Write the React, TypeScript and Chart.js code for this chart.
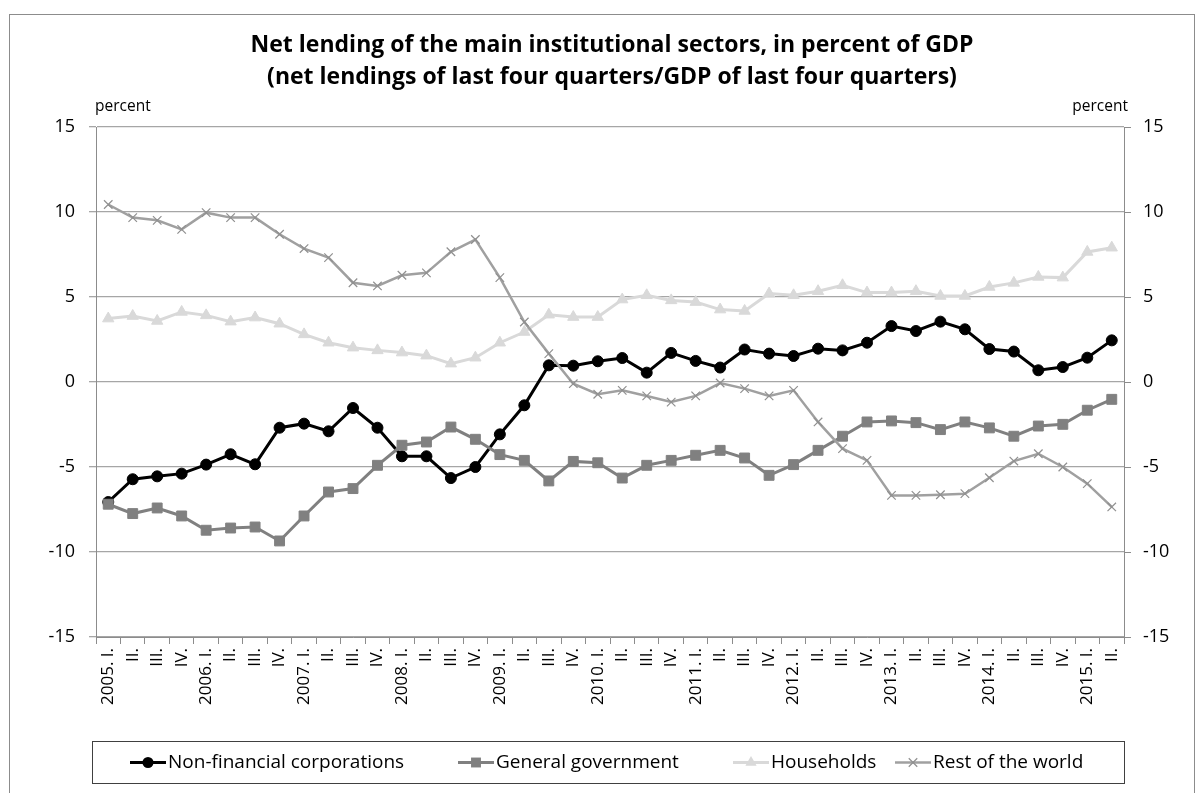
import React, { useEffect, useRef } from "react";
import { Chart, registerables } from "chart.js";
Chart.register(...registerables);

const categories = [
  "2005. I.", "II.", "III.", "IV.",
  "2006. I.", "II.", "III.", "IV.",
  "2007. I.", "II.", "III.", "IV.",
  "2008. I.", "II.", "III.", "IV.",
  "2009. I.", "II.", "III.", "IV.",
  "2010. I.", "II.", "III.", "IV.",
  "2011. I.", "II.", "III.", "IV.",
  "2012. I.", "II.", "III.", "IV.",
  "2013. I.", "II.", "III.", "IV.",
  "2014. I.", "II.", "III.", "IV.",
  "2015. I.", "II.",
];

const nonFinancialCorporations = [
  -7.06, -5.72, -5.55, -5.39, -4.86, -4.25, -4.84, -2.69, -2.45, -2.9, -1.53, -2.69, -4.37, -4.37, -5.65,
  -5.0, -3.08, -1.37, 0.98, 0.96, 1.22, 1.41, 0.55, 1.71, 1.24, 0.85, 1.91, 1.67,
  1.53, 1.96, 1.86, 2.31, 3.29, 3.0, 3.55, 3.1, 1.94, 1.79, 0.69, 0.88, 1.43, 2.45,
];
const generalGovernment = [
  -7.19, -7.74, -7.41, -7.88, -8.72, -8.59, -8.53, -9.35, -7.88, -6.47, -6.27, -4.9, -3.72, -3.53, -2.65,
  -3.37, -4.27, -4.61, -5.82, -4.67, -4.75, -5.65, -4.9, -4.61, -4.31, -4.02, -4.47, -5.49, -4.86,
  -4.02, -3.19, -2.35, -2.29, -2.39, -2.8, -2.35, -2.7, -3.19, -2.59, -2.49, -1.66, -1.02,
];
const households = [
  3.73, 3.88, 3.59, 4.12, 3.92, 3.55, 3.79, 3.43, 2.8, 2.31, 2.02, 1.86, 1.73, 1.55, 1.08,
  1.43, 2.31, 2.94, 3.96, 3.82, 3.82, 4.85, 5.1, 4.8, 4.7, 4.26, 4.18, 5.2, 5.1,
  5.34, 5.69, 5.26, 5.26, 5.34, 5.06, 5.06, 5.59, 5.83, 6.18, 6.14, 7.65, 7.9,
];
const restOfTheWorld = [
  10.44, 9.67, 9.51, 8.98, 9.96, 9.67, 9.67, 8.69, 7.85, 7.32, 5.84, 5.65, 6.28, 6.42, 7.66,
  8.38, 6.14, 3.53, 1.67, -0.1, -0.72, -0.49, -0.82, -1.18, -0.82, -0.06, -0.39, -0.82, -0.49,
  -2.35, -3.92, -4.61, -6.67, -6.67, -6.63, -6.57, -5.63, -4.65, -4.22, -5.0, -5.98, -7.35,
];

const seriesNames = ["Non-financial corporations", "General government", "Households", "Rest of the world"];
const titleLines = [
  "Net lending of the main institutional sectors, in percent of GDP",
  "(net lendings of last four quarters/GDP of last four quarters)",
];
const unitLabel = "percent";
const yMin = -15;
const yMax = 15;
const yStep = 5;

const FONT = "'Open Sans', sans-serif";

const seriesStyles = [
  { color: "#000000", point: "circle", radius: 5.5, width: 3, pointBorder: "#000000", pbw: 1 },
  { color: "#808080", point: "rect", radius: 7, width: 3, pointBorder: "#808080", pbw: 1 },
  { color: "#d9d9d9", point: "triangle", radius: 6.5, width: 3, pointBorder: "#d9d9d9", pbw: 1 },
  { color: "#a0a0a0", point: "crossRot", radius: 6, width: 2.5, pointBorder: "#909090", pbw: 1.2 },
];

function drawMarker(ctx: CanvasRenderingContext2D, style: string, x: number, y: number, r: number, fill: string, stroke: string, lw: number) {
  ctx.save();
  ctx.fillStyle = fill;
  ctx.strokeStyle = stroke;
  ctx.lineWidth = lw;
  ctx.beginPath();
  if (style === "circle") {
    ctx.arc(x, y, r, 0, Math.PI * 2);
    ctx.fill();
  } else if (style === "rect") {
    const s = r / Math.SQRT2;
    ctx.rect(x - s, y - s, 2 * s, 2 * s);
    ctx.fill();
  } else if (style === "triangle") {
    ctx.moveTo(x, y - r);
    ctx.lineTo(x + r * 0.866, y + r * 0.5);
    ctx.lineTo(x - r * 0.866, y + r * 0.5);
    ctx.closePath();
    ctx.fill();
  } else {
    const d = r * 0.707;
    ctx.moveTo(x - d, y - d);
    ctx.lineTo(x + d, y + d);
    ctx.moveTo(x + d, y - d);
    ctx.lineTo(x - d, y + d);
    ctx.stroke();
  }
  ctx.restore();
}

const decorPlugin = {
  id: "decor",
  beforeDraw(chart: any) {
    const ctx = chart.ctx;
    ctx.save();
    ctx.fillStyle = "#ffffff";
    ctx.fillRect(0, 0, chart.width, chart.height);
    ctx.strokeStyle = "#8c8c8c";
    ctx.lineWidth = 1;
    ctx.strokeRect(9.5, 14.5, 1185, 800);
    ctx.restore();
  },
  afterDraw(chart: any) {
    const ctx = chart.ctx;
    const area = chart.chartArea;
    ctx.save();
    ctx.fillStyle = "#000";
    ctx.textAlign = "center";
    ctx.textBaseline = "middle";
    ctx.font = `bold 23px ${FONT}`;
    ctx.fillText(titleLines[0], 612, 45);
    ctx.fillText(titleLines[1], 612, 77);
    ctx.font = `15.5px ${FONT}`;
    ctx.textAlign = "left";
    ctx.fillText(unitLabel, area.left - 1, 107);
    ctx.textAlign = "right";
    ctx.fillText(unitLabel, area.right + 4, 107);
    const top = 741.5, h = 42;
    ctx.strokeStyle = "#404040";
    ctx.lineWidth = 1;
    ctx.strokeRect(92.5, top, 1032, h);
    const cy = top + h / 2;
    const starts = [130, 458, 733, 895];
    chart.data.datasets.forEach((ds: any, i: number) => {
      const st = seriesStyles[i];
      const x0 = starts[i];
      ctx.strokeStyle = st.color;
      ctx.lineWidth = st.width;
      ctx.beginPath();
      ctx.moveTo(x0, cy);
      ctx.lineTo(x0 + 36, cy);
      ctx.stroke();
      drawMarker(ctx, st.point, x0 + 18, cy, st.radius, st.color, st.pointBorder, st.pbw);
      ctx.fillStyle = "#000";
      ctx.textAlign = "left";
      ctx.textBaseline = "middle";
      ctx.font = `19px ${FONT}`;
      ctx.fillText(ds.label, x0 + 38, cy);
    });
    ctx.restore();
  },
};

export default function App() {
  const ref = useRef<HTMLCanvasElement | null>(null);
  useEffect(() => {
    if (!ref.current) return;
    const seriesData = [nonFinancialCorporations, generalGovernment, households, restOfTheWorld];
    const chart = new Chart(ref.current, {
      type: "line",
      data: {
        labels: categories,
        datasets: seriesData.map((d, i) => {
          const st = seriesStyles[i];
          return {
            label: seriesNames[i],
            data: d,
            borderColor: st.color,
            backgroundColor: st.color,
            borderWidth: st.width,
            pointStyle: st.point as any,
            pointRadius: st.radius,
            pointHoverRadius: st.radius,
            pointBackgroundColor: st.color,
            pointBorderColor: st.pointBorder,
            pointBorderWidth: st.pbw,
            tension: 0,
            fill: false,
            order: 3 - i,
            yAxisID: "y",
          };
        }),
      },
      options: {
        animation: false,
        responsive: true,
        maintainAspectRatio: false,
        layout: { padding: { top: 127, left: 0, right: 0, bottom: 0 } },
        plugins: {
          legend: { display: false },
          title: { display: false },
          tooltip: { enabled: false },
        },
        scales: {
          x: {
            type: "category",
            offset: true,
            grid: {
              offset: true,
              drawOnChartArea: false,
              drawTicks: true,
              tickLength: 7,
              color: "#8c8c8c",
            },
            border: { display: true, color: "#8c8c8c" },
            ticks: {
              autoSkip: false,
              maxRotation: 90,
              minRotation: 90,
              color: "#000",
              padding: 4,
              font: { family: FONT, size: 17 },
            },
            afterFit: (s: any) => {
              s.height = 156;
            },
          },
          y: {
            position: "left",
            min: yMin,
            max: yMax,
            ticks: {
              stepSize: yStep,
              color: "#000",
              padding: 14,
              font: { family: FONT, size: 18 },
            },
            grid: { color: "#a6a6a6", tickLength: 7, lineWidth: 1.3 },
            border: { display: true, color: "#8c8c8c" },
            afterFit: (s: any) => {
              s.width = 96;
            },
          },
          y2: {
            position: "right",
            min: yMin,
            max: yMax,
            ticks: {
              stepSize: yStep,
              color: "#000",
              padding: 12,
              font: { family: FONT, size: 18 },
            },
            grid: { drawOnChartArea: false, color: "#8c8c8c", tickLength: 7 },
            border: { display: true, color: "#8c8c8c" },
            afterFit: (s: any) => {
              s.width = 80;
            },
          },
        },
      },
      plugins: [decorPlugin],
    });
    return () => chart.destroy();
  }, []);
  return (
    <div style={{ position: "fixed", left: 0, top: 0, width: 1204, height: 793, background: "#fff" }}>
      <canvas ref={ref} />
    </div>
  );
}
